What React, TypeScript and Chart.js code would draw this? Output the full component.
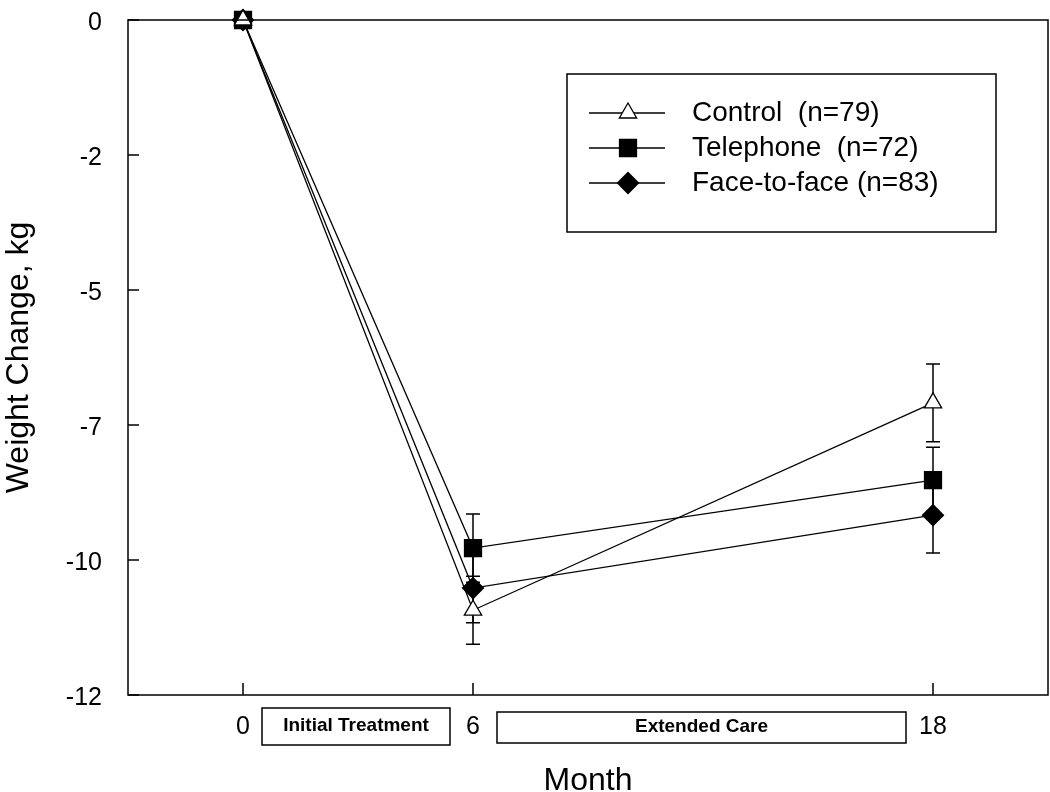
import React, { useEffect, useRef } from 'react';
import { Chart, registerables } from 'chart.js';
import { drawPoint } from 'chart.js/helpers';

Chart.register(...registerables);

// ---- data ----
const months = [0, 6, 18];
const seriesNames = ['Control  (n=79)', 'Telephone  (n=72)', 'Face-to-face (n=83)'];
const controlMean = [0, -10.93, -7.09];
const controlSE = [0, 0.63, 0.72];
const telephoneMean = [0, -9.78, -8.52];
const telephoneSE = [0, 0.63, 0.61];
const faceMean = [0, -10.52, -9.17];
const faceSE = [0, 0.64, 0.7];
const xTickValues = [0, 6, 18];
const yTickValues = [0, -2.5, -5, -7.5, -10, -12.5];
const yTickLabels = ['0', '-2', '-5', '-7', '-10', '-12'];
const phaseLabels = ['Initial Treatment', 'Extended Care'];
const xTitle = 'Month';
const yTitle = 'Weight Change, kg';

const FONT = '"Liberation Sans", Arial, Helvetica, sans-serif';

const errorBarPlugin = {
  id: 'errorBars',
  beforeDatasetsDraw(chart: any) {
    const { ctx, scales } = chart;
    const x = scales.x;
    const y = scales.y;
    ctx.save();
    ctx.strokeStyle = '#000';
    ctx.lineWidth = 1.5;
    chart.data.datasets.forEach((ds: any) => {
      ds.data.forEach((p: any, i: number) => {
        const e = ds.errors ? ds.errors[i] : 0;
        if (!e) return;
        const px = x.getPixelForValue(p.x);
        const y1 = y.getPixelForValue(p.y + e);
        const y2 = y.getPixelForValue(p.y - e);
        ctx.beginPath();
        ctx.moveTo(px, y1);
        ctx.lineTo(px, y2);
        ctx.moveTo(px - 7, y1);
        ctx.lineTo(px + 7, y1);
        ctx.moveTo(px - 7, y2);
        ctx.lineTo(px + 7, y2);
        ctx.stroke();
      });
    });
    ctx.restore();
  },
};

const decorPlugin = {
  id: 'decor',
  afterDraw(chart: any) {
    const { ctx, chartArea, scales } = chart;
    const x = scales.x;
    const y = scales.y;
    ctx.save();
    // frame
    ctx.strokeStyle = '#000';
    ctx.lineWidth = 1.5;
    ctx.strokeRect(chartArea.left, chartArea.top, chartArea.right - chartArea.left, chartArea.bottom - chartArea.top);
    // inward ticks
    ctx.beginPath();
    yTickValues.forEach((v) => {
      const py = y.getPixelForValue(v);
      ctx.moveTo(chartArea.left, py);
      ctx.lineTo(chartArea.left + 11, py);
    });
    xTickValues.forEach((v) => {
      const px = x.getPixelForValue(v);
      ctx.moveTo(px, chartArea.bottom);
      ctx.lineTo(px, chartArea.bottom - 12);
    });
    ctx.stroke();

    // phase boxes under the axis
    const phases = [
      { label: phaseLabels[0], left: x.getPixelForValue(xTickValues[0]) + 19, right: x.getPixelForValue(xTickValues[1]) - 23, top: chartArea.bottom + 13, h: 37 },
      { label: phaseLabels[1], left: x.getPixelForValue(xTickValues[1]) + 24, right: x.getPixelForValue(xTickValues[2]) - 27, top: chartArea.bottom + 17, h: 31 },
    ];
    ctx.lineWidth = 1.5;
    ctx.font = `bold 19px ${FONT}`;
    ctx.textAlign = 'center';
    ctx.textBaseline = 'middle';
    phases.forEach((p) => {
      ctx.fillStyle = '#fff';
      ctx.fillRect(p.left, p.top, p.right - p.left, p.h);
      ctx.strokeRect(p.left, p.top, p.right - p.left, p.h);
      ctx.fillStyle = '#000';
      ctx.fillText(p.label, (p.left + p.right) / 2, p.top + p.h / 2 - 1);
    });

    // legend
    const lx = chartArea.left + 439;
    const ly = chartArea.top + 54;
    const lw = 429;
    const lh = 158;
    ctx.fillStyle = '#fff';
    ctx.fillRect(lx, ly, lw, lh);
    ctx.strokeRect(lx, ly, lw, lh);
    ctx.font = `28px ${FONT}`;
    ctx.textAlign = 'left';
    chart.data.datasets.forEach((ds: any, i: number) => {
      const ry = ly + 39 + i * 35;
      ctx.strokeStyle = '#000';
      ctx.lineWidth = 1.3;
      ctx.beginPath();
      ctx.moveTo(lx + 22, ry);
      ctx.lineTo(lx + 98, ry);
      ctx.stroke();
      ctx.fillStyle = ds.pointBackgroundColor;
      ctx.strokeStyle = ds.pointBorderColor;
      ctx.lineWidth = ds.pointBorderWidth;
      drawPoint(ctx, { pointStyle: ds.pointStyle, radius: ds.pointRadius, borderWidth: ds.pointBorderWidth, rotation: 0 } as any, lx + 61, ry);
      ctx.fillStyle = '#000';
      ctx.fillText(ds.label, lx + 125, ry);
    });
    ctx.restore();
  },
};

const zeroPadding = (s: any) => {
  s.paddingTop = 0;
  s.paddingBottom = 0;
  s.paddingLeft = 0;
  s.paddingRight = 0;
};

export default function App() {
  const ref = useRef<HTMLCanvasElement>(null);
  useEffect(() => {
    if (!ref.current) return;
    const common = {
      borderColor: '#000',
      borderWidth: 1.3,
      pointBorderColor: '#000',
      pointBorderWidth: 1.3,
      clip: false,
      fill: false,
      tension: 0,
    };
    const chart = new Chart(ref.current, {
      type: 'line',
      data: {
        datasets: [
          {
            ...common,
            label: seriesNames[0],
            data: months.map((m, i) => ({ x: m, y: controlMean[i] })),
            errors: controlSE,
            pointStyle: 'triangle',
            pointRadius: 10,
            pointBackgroundColor: '#fff',
          } as any,
          {
            ...common,
            label: seriesNames[1],
            data: months.map((m, i) => ({ x: m, y: telephoneMean[i] })),
            errors: telephoneSE,
            pointStyle: 'rect',
            pointRadius: 12,
            pointBackgroundColor: '#000',
          } as any,
          {
            ...common,
            label: seriesNames[2],
            data: months.map((m, i) => ({ x: m, y: faceMean[i] })),
            errors: faceSE,
            pointStyle: 'rectRot',
            pointRadius: 10.5,
            pointBackgroundColor: '#000',
          } as any,
        ],
      },
      options: {
        responsive: false,
        animation: false,
        layout: { autoPadding: false, padding: { top: 20, right: 2, left: 0, bottom: 0 } },
        plugins: { legend: { display: false }, tooltip: { enabled: false } },
        scales: {
          x: {
            type: 'linear',
            min: -3,
            max: 21,
            afterBuildTicks: (s: any) => {
              s.ticks = xTickValues.map((v) => ({ value: v }));
            },
            afterFit: (s: any) => {
              s.height = 97;
              zeroPadding(s);
            },
            grid: { display: false, drawTicks: false },
            border: { display: false },
            ticks: {
              padding: 17,
              autoSkip: false,
              maxRotation: 0,
              color: '#000',
              font: { family: FONT, size: 25 },
              callback: (v: any) => String(v),
            },
            title: {
              display: true,
              text: xTitle,
              color: '#000',
              font: { family: FONT, size: 32, lineHeight: 0.7 },
              padding: 0,
            },
          },
          y: {
            type: 'linear',
            min: -12.5,
            max: 0,
            afterBuildTicks: (s: any) => {
              s.ticks = yTickValues.map((v) => ({ value: v }));
            },
            afterFit: (s: any) => {
              s.width = 128;
              zeroPadding(s);
            },
            grid: { display: false, drawTicks: false },
            border: { display: false },
            ticks: {
              padding: 26,
              labelOffset: 3,
              color: '#000',
              font: { family: FONT, size: 25 },
              callback: (v: any) => {
                const i = yTickValues.indexOf(Number(v));
                return i >= 0 ? yTickLabels[i] : '';
              },
            },
            title: {
              display: true,
              text: yTitle,
              color: '#000',
              font: { family: FONT, size: 32 },
              padding: 0,
            },
          },
        },
      } as any,
      plugins: [errorBarPlugin, decorPlugin],
    });
    return () => chart.destroy();
  }, []);
  return (
    <div style={{ position: 'absolute', left: 0, top: 0, width: 1050, height: 792, background: '#fff' }}>
      <canvas ref={ref} width={1050} height={792} style={{ display: 'block' }} />
    </div>
  );
}
